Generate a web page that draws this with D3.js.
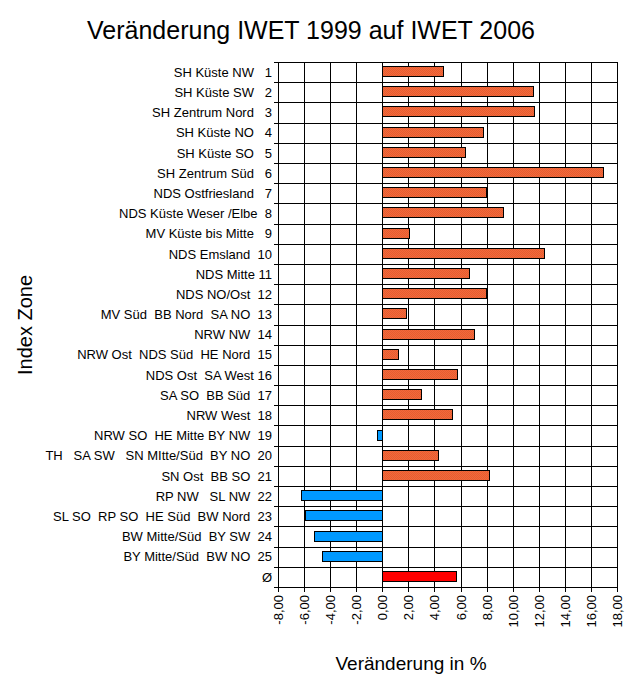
<!DOCTYPE html>
<html>
<head>
<meta charset="utf-8">
<script src="https://cdn.jsdelivr.net/npm/d3@7"></script>
<style>
  body { margin: 0; background: #fff; }
  svg { display: block; }
  text { font-family: "Liberation Sans", Arial, sans-serif; fill: #000; white-space: pre; }
</style>
</head>
<body>
<svg id="chart" width="630" height="680"></svg>
<script>
const labels = [
  "SH Küste NW   1",
  "SH Küste SW   2",
  "SH Zentrum Nord   3",
  "SH Küste NO   4",
  "SH Küste SO   5",
  "SH Zentrum Süd   6",
  "NDS Ostfriesland   7",
  "NDS Küste Weser /Elbe  8",
  "MV Küste bis Mitte   9",
  "NDS Emsland  10",
  "NDS Mitte 11",
  "NDS NO/Ost  12",
  "MV Süd  BB Nord  SA NO  13",
  "NRW NW  14",
  "NRW Ost  NDS Süd  HE Nord  15",
  "NDS Ost  SA West 16",
  "SA SO  BB Süd  17",
  "NRW West  18",
  "NRW SO  HE Mitte BY NW  19",
  "TH   SA SW   SN MItte/Süd  BY NO  20",
  "SN Ost  BB SO  21",
  "RP NW   SL NW  22",
  "SL SO  RP SO  HE Süd  BW Nord  23",
  "BW Mitte/Süd  BY SW  24",
  "BY Mitte/Süd  BW NO  25",
  "Ø"
];
const values = [4.68, 11.59, 11.67, 7.73, 6.37, 16.97, 7.96, 9.29, 2.05, 12.44,
                6.68, 7.96, 1.84, 7.06, 1.23, 5.76, 2.99, 5.37, -0.41, 4.30,
                8.21, -6.24, -5.94, -5.25, -4.63, 5.68];
const xTicks = [-8, -6, -4, -2, 0, 2, 4, 6, 8, 10, 12, 14, 16, 18];
const title = "Veränderung IWET 1999 auf IWET 2006";
const xTitle = "Veränderung in %";
const yTitle = "Index Zone";

const svg = d3.select("#chart");
const L = 278, R = 617, T = 62, B = 587;

const x = d3.scaleLinear().domain([-8, 18]).range([L, R]);
const y = d3.scaleBand().domain(labels.map((d, i) => i)).range([T, B]).paddingInner(0).paddingOuter(0);

const defs = svg.append("defs");
const pat = defs.append("pattern").attr("id", "dither").attr("width", 2).attr("height", 2)
  .attr("patternUnits", "userSpaceOnUse");
pat.append("rect").attr("width", 2).attr("height", 2).attr("fill", "#f4683a");
pat.append("rect").attr("width", 1).attr("height", 1).attr("fill", "#e45e32");
pat.append("rect").attr("x", 1).attr("y", 1).attr("width", 1).attr("height", 1).attr("fill", "#e45e32");

// grid
const g = svg.append("g").attr("shape-rendering", "crispEdges");
g.selectAll("line.v").data(xTicks).join("line")
  .attr("x1", d => Math.round(x(d)) + 0.5).attr("x2", d => Math.round(x(d)) + 0.5)
  .attr("y1", T).attr("y2", B + 5)
  .attr("stroke", "#000").attr("stroke-width", 1);
const hb = d3.range(labels.length + 1).map(i => T + i * y.step());
g.selectAll("line.h").data(hb).join("line")
  .attr("x1", L - 4).attr("x2", R)
  .attr("y1", d => Math.round(d) + 0.5).attr("y2", d => Math.round(d) + 0.5)
  .attr("stroke", "#000").attr("stroke-width", 1);

// bars
const bh = 10;
const last = labels.length - 1;
svg.append("g").attr("shape-rendering", "crispEdges").selectAll("rect").data(values).join("rect")
  .attr("x", d => Math.round(Math.min(x(0), x(d))) + 0.5)
  .attr("y", (d, i) => Math.round(y(i) + y.bandwidth() / 2 - bh / 2 - 1) + 0.5)
  .attr("width", d => Math.round(Math.abs(x(d) - x(0))))
  .attr("height", bh)
  .attr("fill", (d, i) => i === last ? "#ff0000" : (d < 0 ? "#0099ff" : "url(#dither)"))
  .attr("stroke", "#000").attr("stroke-width", 1);

// y labels
svg.append("g").selectAll("text").data(labels).join("text")
  .attr("x", 272).attr("y", (d, i) => y(i) + y.bandwidth() / 2)
  .attr("dy", "0.36em").attr("text-anchor", "end")
  .attr("font-size", 13).text(d => d);

// x tick labels
const fmt = d => d3.format(".2f")(d).replace(".", ",").replace("−", "-");
svg.append("g").selectAll("text").data(xTicks).join("text")
  .attr("transform", d => `translate(${Math.round(x(d)) + 0.5},${B + 8}) rotate(-90)`)
  .attr("text-anchor", "end").attr("dy", "0.36em")
  .attr("font-size", 13).text(fmt);

// titles
svg.append("text").attr("x", 311).attr("y", 39).attr("text-anchor", "middle")
  .attr("font-size", 25).text(title);
svg.append("text").attr("x", 411).attr("y", 670).attr("text-anchor", "middle")
  .attr("font-size", 19).text(xTitle);
svg.append("text").attr("transform", "translate(32,325) rotate(-90)").attr("text-anchor", "middle")
  .attr("font-size", 20).text(yTitle);
</script>
</body>
</html>
